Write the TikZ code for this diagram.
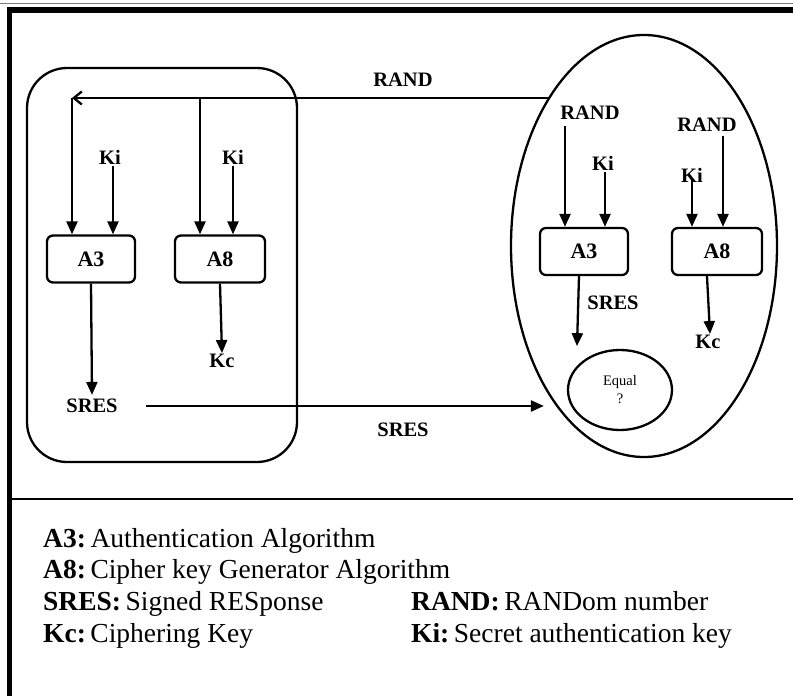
\documentclass[tikz,border=0pt]{standalone}
\usepackage{fontspec}
\setmainfont{Liberation Serif}
\usetikzlibrary{arrows.meta,shapes.geometric}
\begin{document}
\begin{tikzpicture}[x=1pt,y=-1pt,
  line width=2.3pt,
  lbl/.style={font=\fontsize{20.5}{22}\selectfont\bfseries, inner sep=1pt},
  algbox/.style={draw, rounded corners=6pt, minimum width=88pt, minimum height=47pt, inner sep=0pt, font=\fontsize{22}{24}\selectfont\bfseries},
  tri/.style={-{Triangle[length=13pt,width=11pt]}},
  barb/.style={-{Straight Barb[length=8pt,width=13pt]}},
  legend/.style={anchor=base west, inner sep=0pt, font=\fontsize{27.5}{30}\selectfont}
]
\useasboundingbox (0,0) rectangle (793,696);
% frame
\draw[gray, line width=1pt] (0,3.5) -- (793,3.5);
\fill[black] (7,7) rectangle (793,13);
\fill[black] (7,7) rectangle (12,696);
\draw[line width=2.3pt] (12,499) -- (793,499);

% left rounded box
\draw[rounded corners=40pt] (27,68) rectangle (297,462);

% right ellipse
\node[draw, ellipse, minimum width=266pt, minimum height=422pt, inner sep=0pt] (E) at (644,246) {};

% left side
\node[algbox] (lA3) at (91,259) {A3};
\node[algbox, minimum width=90pt] (lA8) at (220,259) {A8};
\node[lbl] (lKi1) at (110,157) {Ki};
\node[lbl] (lKi2) at (233,157) {Ki};
\node[lbl] (lSRES) at (92,406) {SRES};
\node[lbl] (lKc) at (222,361) {Kc};
\coordinate (lA3in1) at ([xshift=-19pt]lA3.north);
\coordinate (lA3in2) at ([xshift=22pt]lA3.north);
\coordinate (lA8in1) at ([xshift=-20pt]lA8.north);
\coordinate (lA8in2) at ([xshift=13pt]lA8.north);
\coordinate (rin) at (E.123.5);
\coordinate (lcorner) at (rin -| lA3in1);
\coordinate (lbranch) at (rin -| lA8in1);

\node[lbl] (randtop) at (403,80) {RAND};
\node[lbl] (srestop) at (403,430) {SRES};

\draw[barb] (rin) -- (lcorner);
\draw[tri] (lcorner) -- (lA3in1);
\draw[tri] (lbranch) -- (lA8in1);
\draw[tri] (lKi1.south -| lA3in2) -- (lA3in2);
\draw[tri] (lKi2.south -| lA8in2) -- (lA8in2);
\draw[tri] (lA3.south) -- ([yshift=2pt]lSRES.north);
\draw[tri] (lA8.south) -- ([yshift=-1pt]lKc.north);
\coordinate (sresin) at (lSRES.east -| E.237);
\draw[tri] ([xshift=26pt]lSRES.east) -- ([xshift=-4pt]sresin);

% right side
\node[algbox] (rA3) at (584,251.5) {A3};
\node[algbox, minimum width=90pt] (rA8) at (717,251.5) {A8};
\node[lbl] (rRAND1) at (590,113) {RAND};
\node[lbl] (rRAND2) at (707,125) {RAND};
\node[lbl] (rKi1) at (603,163) {Ki};
\node[lbl] (rKi2) at (692,175) {Ki};
\node[lbl] (rSRES) at (613,303) {SRES};
\node[lbl] (rKc) at (708,342) {Kc};
\node[draw, ellipse, minimum width=104pt, minimum height=80pt, inner sep=0pt,
      align=center, font=\fontsize{14.5}{18}\selectfont] (eq) at (620,390) {Equal\\?};
\coordinate (rA3in1) at ([xshift=-19pt]rA3.north);
\coordinate (rA3in2) at ([xshift=21pt]rA3.north);
\coordinate (rA8in1) at ([xshift=-25pt]rA8.north);
\coordinate (rA8in2) at ([xshift=6pt]rA8.north);
\coordinate (rsresend) at ([xshift=-7pt,yshift=-70pt]rA3.south);
\draw[tri] ([yshift=-4pt]rRAND1.south -| rA3in1) -- (rA3in1);
\draw[tri] (rKi1.south -| rA3in2) -- (rA3in2);
\draw[tri] ([yshift=-2pt]rRAND2.south -| rA8in2) -- (rA8in2);
\draw[tri] ([yshift=5pt]rKi2.south -| rA8in1) -- (rA8in1);
\draw[tri] ([xshift=-5pt]rA3.south) -- (rsresend);
\draw[tri] ([xshift=-10pt]rA8.south) -- ([xshift=2pt,yshift=-1pt]rKc.north);

% legend
\node[legend] (l1) at (42,547) {\textbf{A3:}\,Authentication Algorithm};
\node[legend] (l2) at (42,578) {\textbf{A8:}\,Cipher key Generator Algorithm};
\node[legend] (l3) at (42,610) {\textbf{SRES:}\,Signed RESponse};
\node[legend] (l4) at (42,642) {\textbf{Kc:}\,Ciphering Key};
\node[legend] (l5) at (410,610) {\textbf{RAND:}\,RANDom number};
\node[legend] (l6) at (410,642) {\textbf{Ki:}\,Secret authentication key};
\end{tikzpicture}
\end{document}
